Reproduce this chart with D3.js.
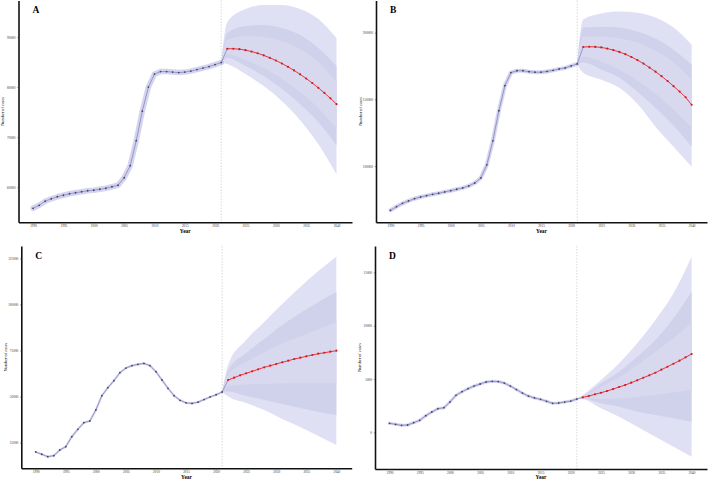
<!DOCTYPE html>
<html>
<head>
<meta charset="utf-8">
<script src="https://cdn.jsdelivr.net/npm/d3@7"></script>
<style>
  body { margin: 0; background: #fff; }
  svg { display: block; }
  text { font-family: "Liberation Serif", "Times New Roman", serif; }
</style>
</head>
<body>
<div id="chart"></div>
<script>
// años observados / proyectados
const histYears = d3.range(1990, 2022);
const predYears = d3.range(2022, 2041);
const bandYears = [2021, 2022, 2025, 2028, 2031, 2034, 2037, 2040];
const yearTicks = [1990, 1995, 2000, 2005, 2010, 2015, 2020, 2025, 2030, 2035, 2040];

// A
const histA = [55800, 56400, 57200, 57700, 58100, 58400, 58700, 58900, 59100, 59300, 59400, 59600, 59800, 60100, 60400, 61900,
  64300, 69300, 75200, 80000, 82600, 83100, 83100, 83000, 82900, 83000, 83200, 83500, 83800, 84100, 84500, 84900];
const predA = [87660, 87660, 87580, 87380, 87100, 86760, 86340, 85860, 85320, 84720, 84060, 83340, 82560, 81720, 80820, 79860, 78840, 77760, 76600];
const outerHiA = [84900, 93000, 95600, 96400, 96400, 95600, 93600, 89800];
const outerLoA = [84900, 84600, 82600, 80200, 77200, 73400, 68600, 62600];
const midHiA   = [84900, 90800, 92200, 92400, 91800, 90400, 87800, 84200];
const midLoA   = [84900, 85800, 84200, 82200, 79600, 76600, 73000, 68400];
const innerHiA = [84900, 89400, 90200, 90000, 89200, 87600, 85000, 81000];
const innerLoA = [84900, 86600, 85400, 83800, 81600, 79000, 75800, 71800];
const ticksA = [60000, 70000, 80000, 90000];

// B
const histB = [66700, 69400, 71900, 73700, 75400, 76700, 77700, 78700, 79500, 80500, 81400, 82500, 83500, 85000, 87200, 91000,
  100800, 118800, 141400, 160200, 170000, 171400, 171400, 170700, 170300, 170300, 170900, 171700, 172700, 173500, 175000, 176500];
const predB = [189200, 189400, 189300, 188900, 188000, 186900, 185500, 183800, 181700, 179400, 176800, 173800, 170700, 167300, 163700, 159800, 155800, 151500, 145900];
const outerHiB = [176500, 209800, 214300, 215800, 215000, 211300, 203800, 191000];
const outerLoB = [176500, 169900, 164700, 158700, 146600, 129300, 114300, 99300];
const midHiB   = [176500, 203800, 204500, 203800, 200800, 195500, 187200, 175900];
const midLoB   = [176500, 177500, 172200, 166200, 155600, 143600, 130100, 114300];
const innerHiB = [176500, 197000, 197000, 195500, 192500, 186500, 177500, 164700];
const innerLoB = [176500, 182000, 178200, 172200, 163900, 154100, 142100, 128600];
const ticksB = [100000, 150000, 200000];

// C
const histC = [19960, 18710, 17410, 17950, 21040, 22830, 28250, 32260, 35850, 36770, 42730, 50490, 54830, 58620, 62960, 65500,
  66800, 67500, 68000, 66800, 63500, 59000, 54500, 50500, 48000, 46600, 46300, 47000, 48400, 49800, 51000, 52500];
const predC = [59000, 60250, 61550, 62630, 63720, 64800, 65890, 66760, 67680, 68600, 69470, 70390, 71090, 71850, 72560, 73260, 73800, 74350, 74890];
const outerHiC = [52500, 67100, 80700, 90500, 100200, 109400, 118100, 125900];
const outerLoC = [52500, 50000, 46500, 42700, 37900, 33500, 28600, 23800];
const midHiC   = [52500, 64100, 73600, 81200, 88800, 95300, 101300, 106700];
const midLoC   = [52500, 52700, 50300, 48200, 46000, 43800, 41700, 40000];
const innerHiC = [52500, 62200, 68700, 74200, 79000, 82800, 86600, 90400];
const innerLoC = [52500, 55800, 56600, 56800, 57100, 57200, 57200, 57200];
const ticksC = [25000, 50000, 75000, 100000, 125000];

// D
const histD = [844, 750, 656, 684, 900, 1125, 1556, 1903, 2213, 2306, 2841, 3469, 3806, 4088, 4340, 4530,
  4720, 4780, 4760, 4620, 4340, 4010, 3680, 3400, 3220, 3090, 2910, 2720, 2750, 2840, 2930, 3120];
const predD = [3281, 3403, 3562, 3712, 3872, 4059, 4247, 4434, 4650, 4875, 5118, 5344, 5587, 5869, 6150, 6431, 6713, 7031, 7341];
const outerHiD = [3120, 3500, 4900, 6470, 8340, 10530, 13030, 16460];
const outerLoD = [3120, 3090, 2250, 1460, 525, -410, -1350, -2290];
const midHiD   = [3120, 3400, 4590, 5680, 7090, 8650, 10690, 13180];
const midLoD   = [3120, 3150, 2720, 2400, 1930, 1620, 1310, 990];
const innerHiD = [3120, 3360, 4250, 5180, 6310, 7530, 8840, 10250];
const innerLoD = [3120, 3220, 3120, 3170, 3310, 3500, 3730, 3970];
const ticksD = [0, 5000, 10000, 15000];

const width = 709, height = 479;

const svg = d3.select("#chart").append("svg")
  .attr("width", width).attr("height", height);

const panels = [
  { label: "A", hist: histA, pred: predA, oHi: outerHiA, oLo: outerLoA, mHi: midHiA, mLo: midLoA, iHi: innerHiA, iLo: innerLoA,
    ticks: ticksA, yDom: [53000, 97300], xr: [18.5, 352], yr: [222.3, 0.5], rib: 5.5 },
  { label: "B", hist: histB, pred: predB, oHi: outerHiB, oLo: outerLoB, mHi: midHiB, mLo: midLoB, iHi: innerHiB, iLo: innerLoB,
    ticks: ticksB, yDom: [57700, 224100], xr: [376, 707], yr: [222.3, 0.5], rib: 4 },
  { label: "C", hist: histC, pred: predC, oHi: outerHiC, oLo: outerLoC, mHi: midHiC, mLo: midLoC, iHi: innerHiC, iLo: innerLoC,
    ticks: ticksC, yDom: [11100, 131700], xr: [21.3, 351.7], yr: [468.3, 246], rib: 2.2 },
  { label: "D", hist: histD, pred: predD, oHi: outerHiD, oLo: outerLoD, mHi: midHiD, mLo: midLoD, iHi: innerHiD, iLo: innerLoD,
    ticks: ticksD, yDom: [-3440, 17470], xr: [375, 707], yr: [469, 246], rib: 3 }
];

panels.forEach(p => {
  const g = svg.append("g");
  const x = d3.scaleLinear().domain([1987.6, 2042.55]).range(p.xr);
  const y = d3.scaleLinear().domain(p.yDom).range(p.yr);

  // línea vertical discontinua en el último año observado
  g.append("line")
    .attr("x1", x(2021)).attr("x2", x(2021))
    .attr("y1", p.yr[1]).attr("y2", p.yr[0])
    .attr("stroke", "#cfcfcf").attr("stroke-width", 0.8)
    .attr("stroke-dasharray", "1.5,1.5");

  // bandas de predicción
  const area = d3.area().x(d => x(d.yr)).y0(d => y(d.lo)).y1(d => y(d.hi)).curve(d3.curveMonotoneX);
  const band = (lo, hi, fill) => g.append("path")
    .datum(bandYears.map((yr, i) => ({ yr, lo: lo[i], hi: hi[i] })))
    .attr("d", area).attr("fill", fill);
  band(p.oLo, p.oHi, "#e0e0f5");
  band(p.mLo, p.mHi, "#d0d1eb");
  band(p.iLo, p.iHi, "#d8d8ef");

  const hist = histYears.map((yr, i) => ({ yr, v: p.hist[i] }));
  const pred = predYears.map((yr, i) => ({ yr, v: p.pred[i] }));
  const line = d3.line().x(d => x(d.yr)).y(d => y(d.v));

  // banda del ajuste observado
  g.append("path").datum(hist).attr("d", line)
    .attr("fill", "none").attr("stroke", "rgba(160,160,225,0.45)")
    .attr("stroke-width", p.rib).attr("stroke-linejoin", "round").attr("stroke-linecap", "round");

  g.append("path").datum(hist.concat([pred[0]])).attr("d", line)
    .attr("fill", "none").attr("stroke", "#8686b6").attr("stroke-width", 0.8);

  g.selectAll(".hp").data(hist).enter().append("circle")
    .attr("cx", d => x(d.yr)).attr("cy", d => y(d.v)).attr("r", 0.9)
    .attr("fill", "#44446a");

  g.append("path").datum(pred).attr("d", line)
    .attr("fill", "none").attr("stroke", "#e3262b").attr("stroke-width", 0.9);

  g.selectAll(".pp").data(pred).enter().append("circle")
    .attr("cx", d => x(d.yr)).attr("cy", d => y(d.v)).attr("r", 1.1)
    .attr("fill", "#d7191c");

  // ejes
  const ax = g.append("g")
    .attr("transform", `translate(0,${p.yr[0]})`)
    .call(d3.axisBottom(x).tickValues(yearTicks).tickSize(1.2).tickSizeOuter(0).tickPadding(1.2).tickFormat(d3.format("d")));
  const ay = g.append("g")
    .attr("transform", `translate(${p.xr[0]},0)`)
    .call(d3.axisLeft(y).tickValues(p.ticks).tickSize(1.2).tickSizeOuter(0).tickPadding(1.8).tickFormat(d3.format("d")));

  [ax, ay].forEach(a => {
    a.select(".domain").attr("stroke", "#111").attr("stroke-width", 1.6);
    a.selectAll(".tick line").attr("stroke", "#333").attr("stroke-width", 0.5);
    a.selectAll("text").attr("font-size", "3.4px").attr("fill", "#333")
      .style("font-family", '"Liberation Serif", serif');
  });

  g.append("text")
    .attr("x", (p.xr[0] + p.xr[1]) / 2).attr("y", p.yr[0] + 10.3)
    .attr("text-anchor", "middle").attr("font-size", "5.4px").attr("font-weight", "bold")
    .text("Year");

  g.append("text")
    .attr("transform", `translate(${p.xr[0] - 14.5},${(p.yr[0] + p.yr[1]) / 2}) rotate(-90)`)
    .attr("text-anchor", "middle").attr("font-size", "4.3px")
    .text("Number of cases");

  g.append("text")
    .attr("x", p.xr[0] + 14).attr("y", p.yr[1] + 12.5)
    .attr("font-size", "9.5px").attr("font-weight", "bold")
    .text(p.label);
});
</script>
</body>
</html>
